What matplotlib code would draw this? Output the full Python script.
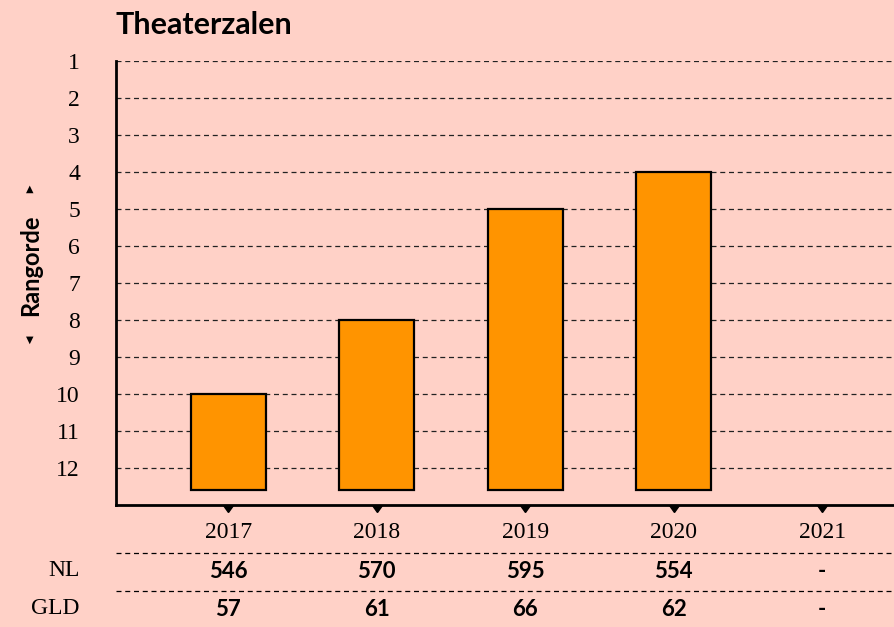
import matplotlib
matplotlib.use('Agg')
import matplotlib.pyplot as plt
from matplotlib.transforms import blended_transform_factory

# data
years = ['2017', '2018', '2019', '2020', '2021']
rank = [10, 8, 5, 4, None]
nl_values = ['546', '570', '595', '554', '-']
gld_values = ['57', '61', '66', '62', '-']
rank_ticks = list(range(1, 13))

bg = '#FFD1C7'
bar_color = '#FF9400'
bar_base = 12.6
serif = 'Liberation Serif'
sans = ['Lato', 'DejaVu Sans']

fig = plt.figure(figsize=(8.95, 6.27), dpi=100, facecolor=bg)
ax = fig.add_axes([116 / 895, 1 - 505 / 627, 779 / 895, 444 / 627])
ax.set_facecolor(bg)

x = list(range(len(years)))
for xi, r in zip(x, rank):
    if r is None:
        continue
    ax.bar(xi, r - bar_base, bottom=bar_base, width=0.505, color=bar_color,
           edgecolor='black', linewidth=1.6, zorder=3)

ax.set_xlim(-0.755, 4.49)
ax.set_ylim(13, 1)

ax.set_yticks(rank_ticks)
ax.set_yticklabels([str(t) for t in rank_ticks], family=serif, fontsize=17)
ax.set_xticks(x)
ax.set_xticklabels(years, family=serif, fontsize=17)
ax.tick_params(axis='y', length=0, pad=26)
ax.tick_params(axis='x', length=0, pad=12)

ax.grid(axis='y', linestyle=(0, (4, 3)), color='#222222', linewidth=0.9, zorder=0)
ax.grid(axis='x', visible=False)

for side in ['top', 'right']:
    ax.spines[side].set_visible(False)
ax.spines['left'].set_linewidth(2)
ax.spines['bottom'].set_linewidth(2)

# little down triangles under the x axis
trans = blended_transform_factory(ax.transData, ax.transAxes)
ax.plot(x, [0] * len(x), linestyle='none', marker=11, markersize=7, color='black',
        transform=trans, clip_on=False, zorder=5)

fig.text(116 / 895, 1 - 25 / 627, 'Theaterzalen', fontsize=22, fontweight='bold',
         family=sans, va='center', ha='left')

# y label with arrows
fig.text(31 / 895, 1 - 265 / 627, 'Rangorde', rotation=90, fontsize=17,
         fontweight='bold', family=sans, va='center', ha='center')
fig.text(30 / 895, 1 - 189 / 627, '\u25b2', fontsize=7, family='DejaVu Sans',
         va='center', ha='center')
fig.text(30 / 895, 1 - 340 / 627, '\u25bc', fontsize=7, family='DejaVu Sans',
         va='center', ha='center')

# table below the chart
ttrans = blended_transform_factory(ax.transData, fig.transFigure)
for yy in [553, 591]:
    ax.plot([-0.755, 4.49], [1 - yy / 627] * 2, transform=ttrans, clip_on=False,
            color='black', linewidth=0.9, linestyle=(0, (4, 3)))

for label, vals, yy in [('NL', nl_values, 571), ('GLD', gld_values, 609)]:
    fig.text(80 / 895, 1 - yy / 627, label, family=serif, fontsize=17,
             ha='right', va='center')
    for xi, v in zip(x, vals):
        ax.text(xi, 1 - yy / 627, v, transform=ttrans, fontsize=16, fontweight='bold',
                family=sans, ha='center', va='center')

plt.savefig('out.png', dpi=100, facecolor=bg)
